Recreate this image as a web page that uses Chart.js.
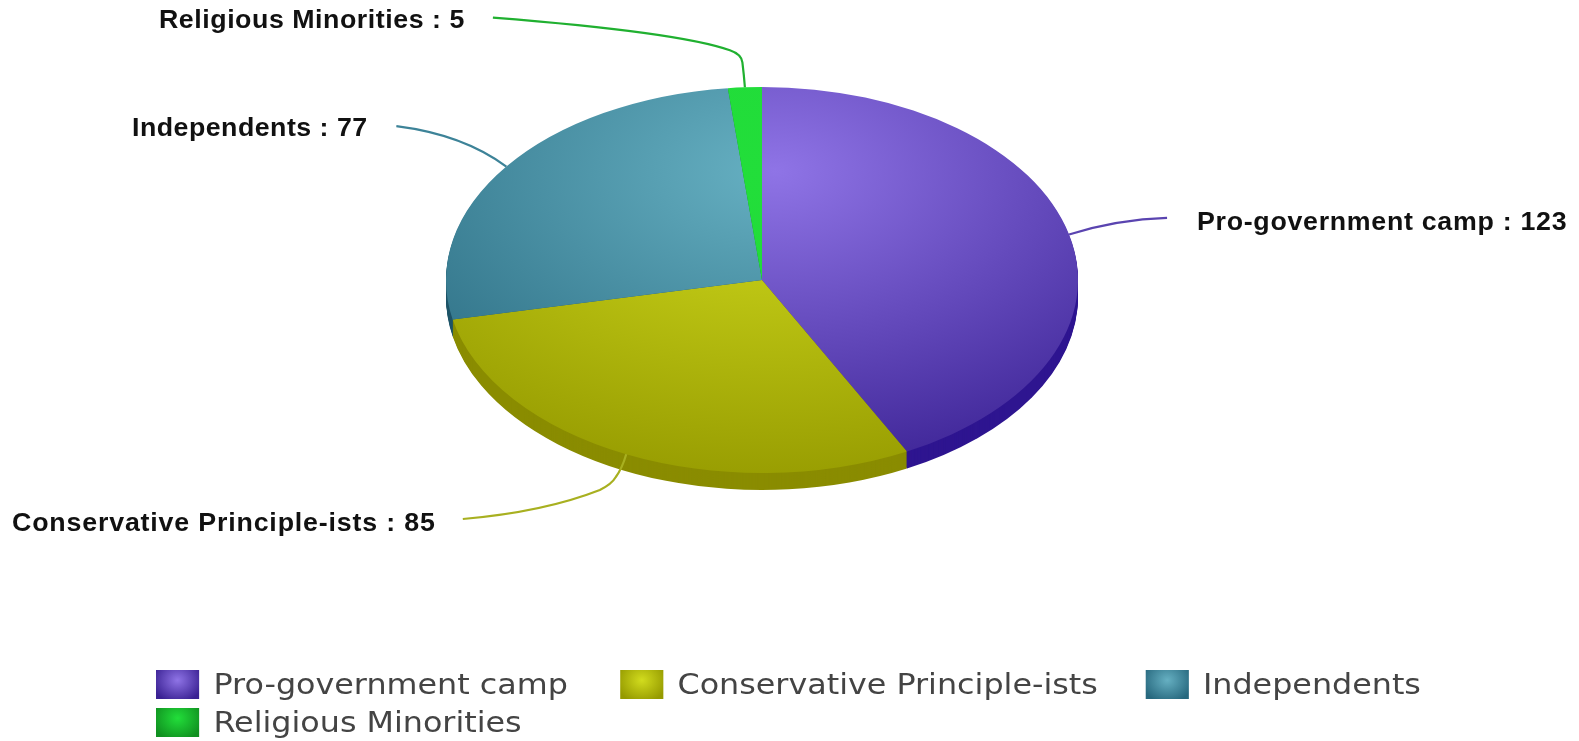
<!DOCTYPE html>
<html>
<head>
<meta charset="utf-8">
<title>Seats</title>
<script src="https://cdn.jsdelivr.net/npm/chart.js@4/dist/chart.umd.min.js"></script>
<style>
  html, body { margin: 0; padding: 0; background: #fff; overflow: hidden; }
  #wrap { position: relative; width: 1579px; height: 741px; overflow: hidden; }
  #pie { display: block; }
  /* the legend text in the picture is stretched sideways */
  #legend { position: absolute; left: 156px; top: 666px; width: 1150px; display: flex; flex-wrap: wrap; column-gap: 46px; transform: scaleX(1.135); transform-origin: 0 0; }
  .item { display: flex; align-items: center; height: 37.7px; font: 28px "DejaVu Sans", sans-serif; color: #444; white-space: nowrap; }
  .item:nth-child(2) { margin-right: -4px; }
  .box { width: 38px; height: 29px; margin-right: 12.6px; }
</style>
</head>
<body>
<div id="wrap">
  <canvas id="pie" width="1579" height="741"></canvas>
  <div id="legend"></div>
</div>
<script>
// 데이터
const categories = ['Pro-government camp', 'Conservative Principle-ists', 'Independents', 'Religious Minorities'];
const seats = [123, 85, 77, 5];

// colours: highlight, edge, side wall
const lightColors = ['#8f74e6', '#d2dc1e', '#66b0c2', '#22de3a'];
const darkColors = ['#3a2193', '#959a00', '#27687e', '#20d838'];
const sideColors = ['#2e1590', '#8a8c00', '#1f5568', '#109020'];
const lineColors = ['#5a44b0', '#a8b020', '#3d8398', '#20b030'];

// 화면 위치 (ellipse)
const pieX = 762, pieY = 280, pieRx = 316, pieRy = 193, pieDepth = 17;
const labelStretch = 1.07;

// callout: start of the label text, and the leader curve relative to the slice edge
const callouts = [
  { textX: 1197, textY: 223, spacing: 0.67, path: [[49, -15, 98, -16.5]] },
  { textX: 12, textY: 524, spacing: 0.78, path: [[-4, 14, -10.4, 22.7], [-4, 7, -16, 13], [-56, 22, -137, 29]] },
  { textX: 132, textY: 129, spacing: 0.45, path: [[-43, -32, -110, -40.5]] },
  { textX: 159, textY: 21, spacing: 0.51, path: [[-1, -13, -2.5, -25], [-1, -8, -12.5, -12], [-50, -18, -237, -32.7]] }
];

function pieTransform(chart, ctx) {
  const a = chart.chartArea;
  const cx = (a.left + a.right) / 2, cy = (a.top + a.bottom) / 2;
  ctx.translate(pieX, pieY);
  ctx.scale(1, pieRy / pieRx);
  ctx.translate(-cx, -cy);
}

const piePlugin = {
  id: 'pie3d',
  beforeDatasetsDraw(chart) {
    const ctx = chart.ctx;
    const arcs = chart.getDatasetMeta(0).data;
    ctx.save();
    pieTransform(chart, ctx);
    // side wall, the same sectors pushed down
    for (let d = pieDepth; d > 0; d--) {
      arcs.forEach((arc, i) => {
        const p = arc.getProps(['x', 'y', 'startAngle', 'endAngle', 'outerRadius']);
        const yy = p.y + d * pieRx / pieRy;
        ctx.beginPath();
        ctx.moveTo(p.x, yy);
        ctx.arc(p.x, yy, p.outerRadius, p.startAngle, p.endAngle);
        ctx.closePath();
        ctx.fillStyle = sideColors[i];
        ctx.fill();
      });
    }
  },
  afterDatasetsDraw(chart) {
    const ctx = chart.ctx;
    ctx.restore();
    const arcs = chart.getDatasetMeta(0).data;
    arcs.forEach((arc, i) => {
      const p = arc.getProps(['startAngle', 'endAngle']);
      const mid = (p.startAngle + p.endAngle) / 2;
      let x = pieX + pieRx * Math.cos(mid);
      let y = pieY + pieRy * Math.sin(mid);
      const c = callouts[i];
      // leader line
      ctx.beginPath();
      ctx.moveTo(x, y);
      c.path.forEach(s => {
        ctx.quadraticCurveTo(x + s[0], y + s[1], x + s[2], y + s[3]);
        x += s[2];
        y += s[3];
      });
      ctx.strokeStyle = lineColors[i];
      ctx.lineWidth = 2.2;
      ctx.stroke();
      // label
      ctx.save();
      ctx.scale(labelStretch, 1);
      ctx.font = 'bold 25px "Liberation Sans", Arial, sans-serif';
      ctx.letterSpacing = c.spacing + 'px';
      ctx.fillStyle = '#111';
      ctx.textAlign = 'left';
      ctx.textBaseline = 'middle';
      ctx.fillText(categories[i] + ' : ' + seats[i], c.textX / labelStretch, c.textY);
      ctx.restore();
    });
  }
};

function sliceFill(c) {
  const a = c.chart.chartArea;
  if (!a) return darkColors[c.dataIndex];
  const cx = (a.left + a.right) / 2, cy = (a.top + a.bottom) / 2;
  const g = c.chart.ctx.createRadialGradient(cx + 13, cy - 178, 0, cx + 13, cy - 178, 530);
  g.addColorStop(0, lightColors[c.dataIndex]);
  g.addColorStop(1, darkColors[c.dataIndex]);
  return g;
}

new Chart(document.getElementById('pie'), {
  type: 'pie',
  data: {
    labels: categories,
    datasets: [{
      data: seats,
      backgroundColor: sliceFill,
      borderWidth: 0,
      radius: pieRx,
      clip: false
    }]
  },
  options: {
    responsive: false,
    animation: false,
    events: [],
    plugins: { legend: { display: false }, tooltip: { enabled: false } }
  },
  plugins: [piePlugin]
});

// 범례
const legendBox = document.getElementById('legend');
categories.forEach((name, i) => {
  const item = document.createElement('div');
  item.className = 'item';
  const box = document.createElement('div');
  box.className = 'box';
  box.style.background = 'radial-gradient(circle at 50% 35%, ' + lightColors[i] + ', ' + (i == 3 ? sideColors[i] : darkColors[i]) + ' 85%)';
  item.appendChild(box);
  item.appendChild(document.createTextNode(name));
  legendBox.appendChild(item);
});
</script>
</body>
</html>
